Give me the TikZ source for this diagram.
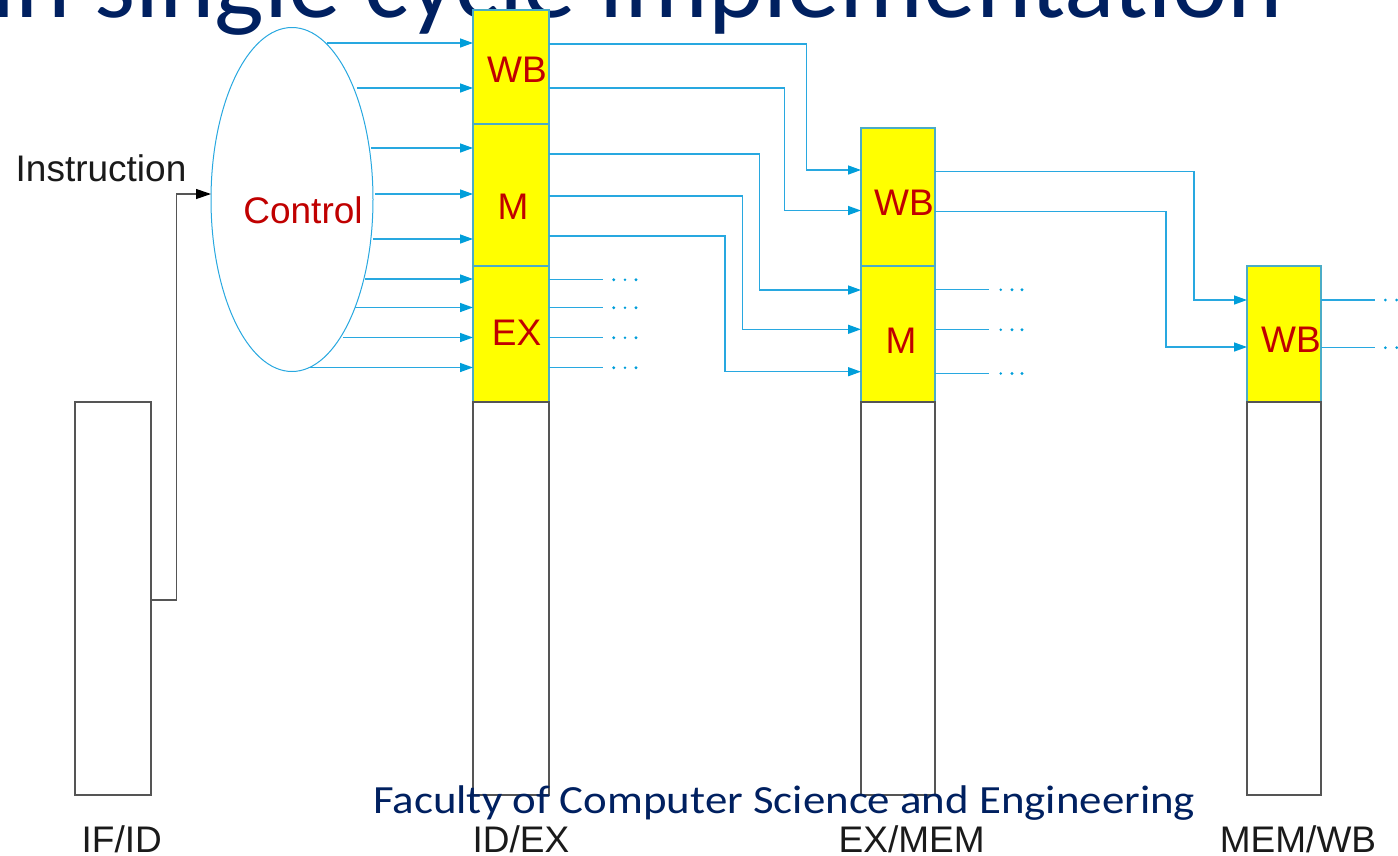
\documentclass[tikz,border=0pt]{standalone}
\usepackage{fontspec}
\usepackage{graphicx}
\setmainfont{Liberation Sans}
\newfontfamily\titlefont{Carlito}
\usetikzlibrary{arrows.meta,shapes.geometric}
\definecolor{navy}{RGB}{0,32,96}
\definecolor{ctlred}{RGB}{192,0,0}
\definecolor{wirecyan}{RGB}{40,168,224}
\definecolor{tipcyan}{RGB}{0,158,218}
\definecolor{regteal}{RGB}{75,172,198}
\definecolor{reggray}{RGB}{85,85,85}
\definecolor{regyellow}{RGB}{255,255,0}
\definecolor{txtblack}{RGB}{26,26,26}
\tikzset{
  yreg/.style={draw=regteal, fill=regyellow, line width=1.3pt, inner sep=0pt, outer sep=0pt},
  wreg/.style={draw=reggray, fill=white, line width=1.2pt, inner sep=0pt, outer sep=0pt},
  cwire/.style={draw=wirecyan, line width=1.4pt, -{Triangle[length=13pt,width=9pt,color=tipcyan]}},
  cline/.style={draw=wirecyan, line width=1.4pt},
  bwire/.style={draw=reggray, line width=1.2pt, -{Triangle[length=15pt,width=10pt,color=black]}},
  regtxt/.style={text=ctlred, font=\fontsize{37}{40}\selectfont, inner sep=0pt},
  lbltxt/.style={text=txtblack, font=\fontsize{37}{40}\selectfont, inner sep=0pt},
  dotc/.style={fill=tipcyan},
}
\begin{document}
\begin{tikzpicture}[x=1pt,y=-1pt]
\useasboundingbox (0,0) rectangle (1398,855);
\clip (0,0) rectangle (1398,855);

% title (cut off at top)
\node[anchor=base west, inner sep=0pt, text=navy] (title) at (-9,17)
  {\resizebox{1292pt}{\height}{\titlefont\fontsize{104}{110}\selectfont in single cycle implementation}};

% IF/ID register
\node[wreg, minimum width=76pt, minimum height=393pt] (ifid) at (113,598.5) {};

% control ellipse
\node[ellipse, draw=wirecyan, line width=1pt, fill=white, minimum width=162pt, minimum height=344pt, inner sep=0pt, outer sep=0pt] (ctrl) at (292,199.5) {};
\node[regtxt] (ctrltxt) at (303,210.5) {Control};

% ID/EX register
\node[yreg, minimum width=76pt, minimum height=114pt] (idexwb) at (511,67) {};
\node[yreg, minimum width=76pt, minimum height=142pt] (idexm) at (511,195) {};
\node[yreg, minimum width=76pt, minimum height=136pt] (idexex) at (511,334) {};
\node[wreg, minimum width=76pt, minimum height=393pt] (idexw) at (511,598.5) {};
\node[regtxt] (t1) at (517,70) {WB};
\node[regtxt] (t2) at (513,207) {M};
\node[regtxt] (t3) at (516.5,332.5) {EX};

% EX/MEM register
\node[yreg, minimum width=74pt, minimum height=138pt] (exmemwb) at (898,197) {};
\node[yreg, minimum width=74pt, minimum height=136pt] (exmemm) at (898,334) {};
\node[wreg, minimum width=74pt, minimum height=393pt] (exmemw) at (898,598.5) {};
\node[regtxt] (t4) at (904,203) {WB};
\node[regtxt] (t5) at (901,341) {M};

% MEM/WB register
\node[yreg, minimum width=74pt, minimum height=136pt] (memwbwb) at (1284,334) {};
\node[wreg, minimum width=74pt, minimum height=393pt] (memwbw) at (1284,598.5) {};
\node[regtxt] (t6) at (1291,340) {WB};

% bottom labels
\node[lbltxt] (l1) at (121.7,839) {IF/ID};
\node[lbltxt] (l2) at (521,839) {ID/EX};
\node[lbltxt] (l3) at (911.7,839) {EX/MEM};
\node[lbltxt] (l4) at (1298,839) {MEM/WB};
\node[anchor=base, lbltxt] (instr) at (101,181.7) {Instruction};

% instruction wire
\draw[bwire] (ifid.east |- 0,600) -| (176.7,194) -- (ctrl.west |- 0,194);

% control outputs into ID/EX
\coordinate (c1) at (327,43);
\coordinate (c2) at (357,88);
\coordinate (c3) at (371,148);
\coordinate (c4) at (375,194);
\coordinate (c5) at (373,239);
\coordinate (c6) at (365,279);
\coordinate (c7) at (355,307.5);
\coordinate (c8) at (343,337.5);
\coordinate (c9) at (310,367.5);
\draw[cwire] (c1) -- (idexwb.west |- c1);
\draw[cwire] (c2) -- (idexwb.west |- c2);
\draw[cwire] (c3) -- (idexm.west |- c3);
\draw[cwire] (c4) -- (idexm.west |- c4);
\draw[cwire] (c5) -- (idexm.west |- c5);
\draw[cwire] (c6) -- (idexex.west |- c6);
\draw[cwire] (c7) -- (idexex.west |- c7);
\draw[cwire] (c8) -- (idexex.west |- c8);
\draw[cwire] (c9) -- (idexex.west |- c9);

% ID/EX outputs to EX/MEM
\draw[cwire] (idexwb.east |- 0,44) -| (806.7,170) -- (exmemwb.west |- 0,170);
\draw[cwire] (idexwb.east |- 0,88) -| (784.3,210.5) -- (exmemwb.west |- 0,210.5);
\draw[cwire] (idexm.east |- 0,154) -| (759.5,290) -- (exmemm.west |- 0,290);
\draw[cwire] (idexm.east |- 0,196) -| (742.7,329.3) -- (exmemm.west |- 0,329.3);
\draw[cwire] (idexm.east |- 0,236) -| (725,371.7) -- (exmemm.west |- 0,371.7);

% EX outputs (continuing)
\foreach \yy in {279.7,307.7,337.7,367.7} {
  \coordinate (e) at (602.7,\yy);
  \draw[cline] (idexex.east |- e) -- (e);
  \fill[dotc] (613.7,\yy) circle (1.6pt);
  \fill[dotc] (625,\yy) circle (1.3pt);
  \fill[dotc] (636,\yy) circle (1.6pt);
}

% EX/MEM outputs to MEM/WB
\draw[cwire] (exmemwb.east |- 0,171.7) -| (1194,300) -- (memwbwb.west |- 0,300);
\draw[cwire] (exmemwb.east |- 0,211.5) -| (1166,347) -- (memwbwb.west |- 0,347);

% M outputs (continuing)
\foreach \yy in {289.7,329.7,373.5} {
  \coordinate (f) at (989,\yy);
  \draw[cline] (exmemm.east |- f) -- (f);
  \fill[dotc] (1000.7,\yy) circle (1.4pt);
  \fill[dotc] (1012,\yy) circle (1.6pt);
  \fill[dotc] (1022,\yy) circle (1.6pt);
}

% WB outputs (continuing)
\foreach \yy in {300,347.7} {
  \coordinate (g) at (1375,\yy);
  \draw[cline] (memwbwb.east |- g) -- (g);
  \fill[dotc] (1385.3,\yy) circle (1.5pt);
  \fill[dotc] (1396.7,\yy) circle (1.5pt);
}

% footer
\node[anchor=base west, inner sep=0pt, text=navy] (footer) at (373,813)
  {\resizebox{822pt}{\height}{\titlefont\fontsize{40}{48}\selectfont Faculty of Computer Science and Engineering}};
\end{tikzpicture}
\end{document}
